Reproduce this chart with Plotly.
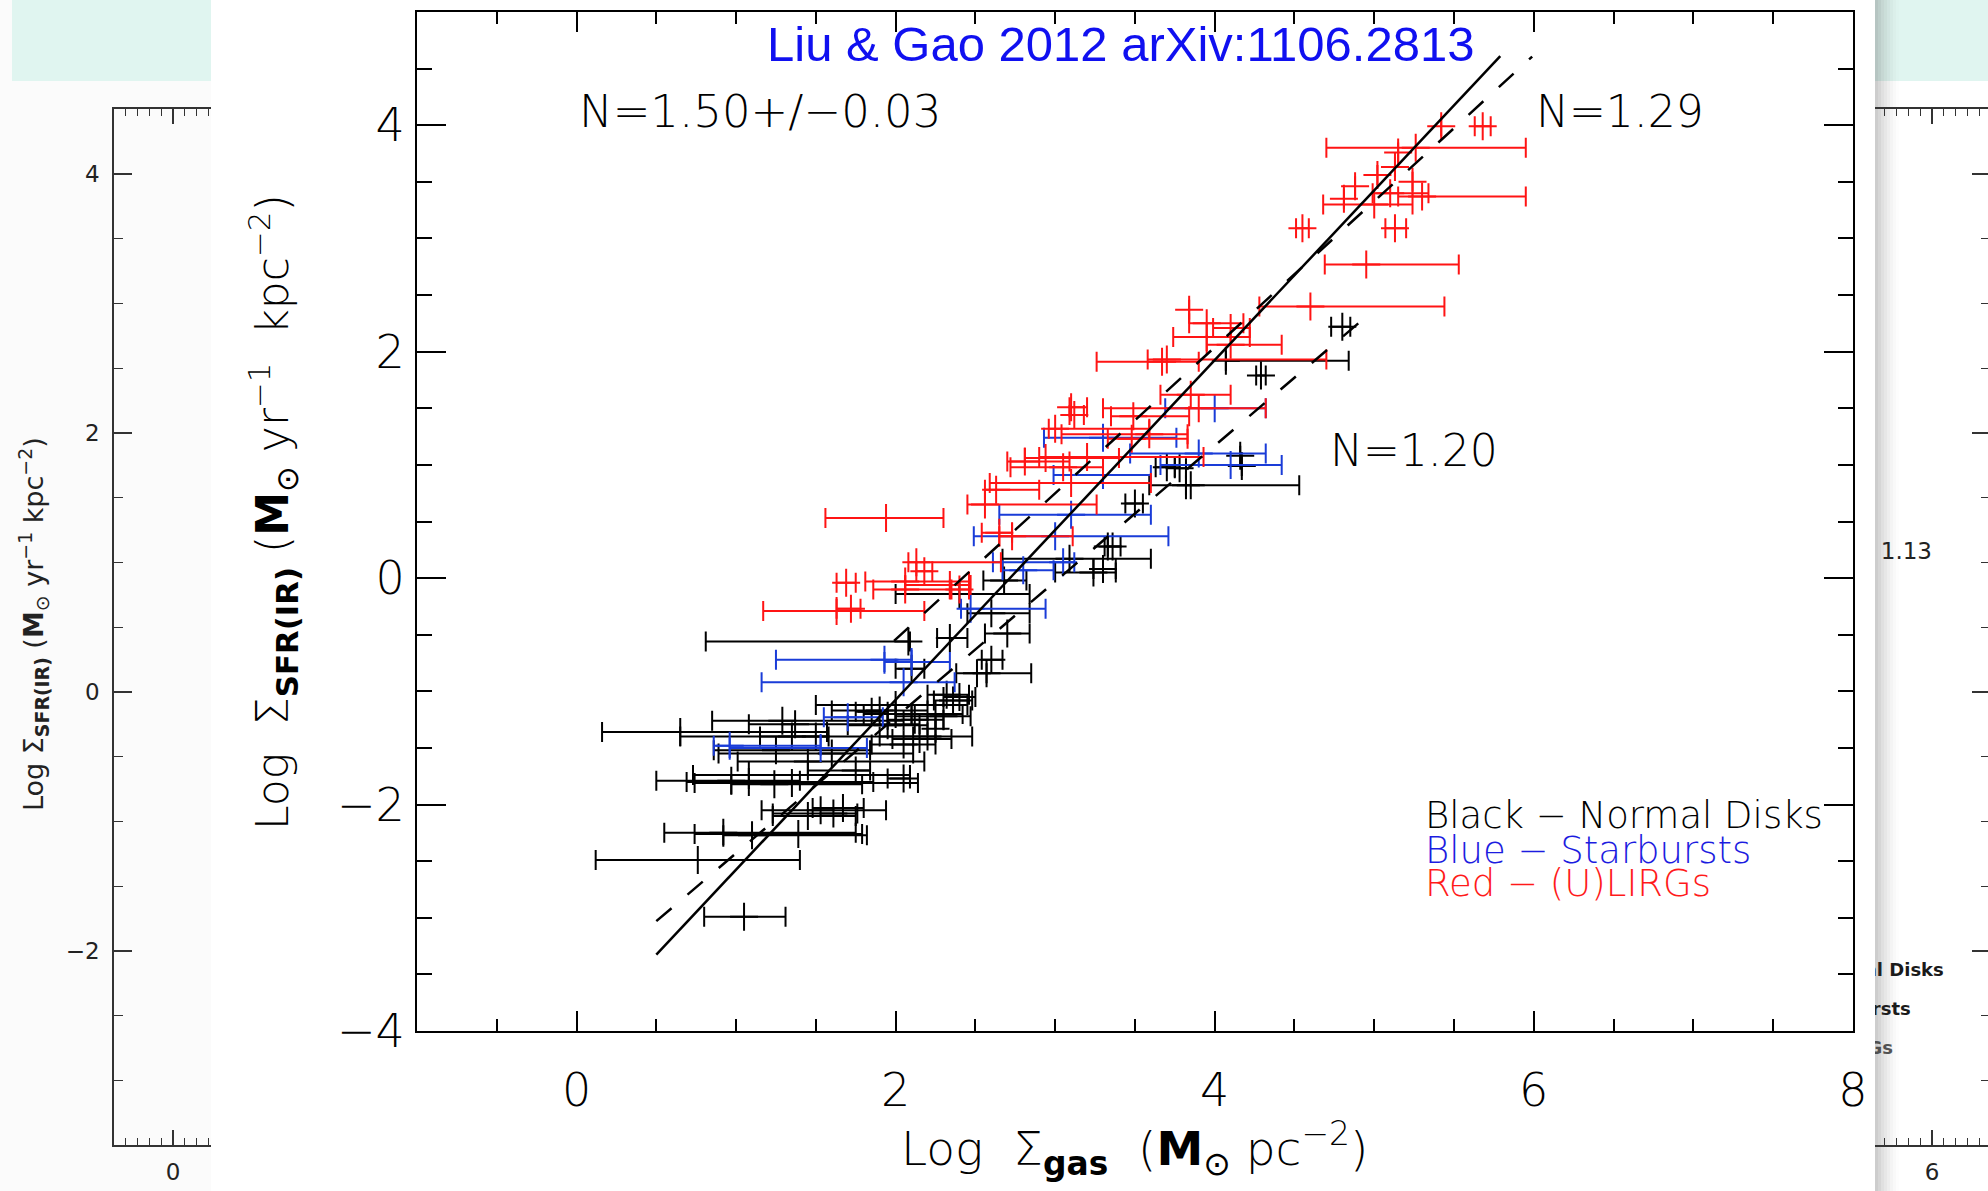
import plotly.graph_objects as go

W, H = 1988, 1191
def px(x): return x / W
def py(y): return 1 - y / H

FONT = "DejaVu Sans"
LIGHT = "DejaVu Sans Light, DejaVu Sans ExtraLight, DejaVu Sans"

# ---------------- data (log units) ----------------
# Red: (U)LIRGs  -> centre x, y, lower x, upper x
red_x  = [5.42, 5.68, 5.26, 5.15, 5.13, 5.02, 5.24, 4.88, 5.10, 4.81, 5.00, 5.30, 4.55, 5.13, 4.95, 4.60,
          3.84, 3.95, 4.10, 3.95, 4.10, 3.67, 3.70, 3.85, 3.90, 3.49, 3.10, 3.12, 3.00, 3.48, 3.59, 2.81,
          2.94, 3.20, 3.05, 3.10, 2.63, 2.56, 2.65, 2.73, 1.94, 2.13, 2.18, 2.06, 2.06, 2.34, 1.69, 1.63,
          1.72, 2.40]
red_y  = [3.99, 3.99, 3.80, 3.76, 3.63, 3.56, 3.50, 3.46, 3.40, 3.35, 3.30, 3.37, 3.09, 3.09, 2.77, 2.40,
          2.37, 2.25, 2.21, 2.13, 2.06, 1.91, 1.93, 1.62, 1.50, 1.43, 1.51, 1.44, 1.32, 1.23, 1.27, 1.03,
          1.06, 1.07, 0.98, 0.84, 0.78, 0.65, 0.40, 0.37, 0.53, 0.14, 0.06, -0.03, -0.10, -0.06, -0.04, -0.29,
          -0.27, -0.10]
red_lo = [5.42, 5.63, 4.70, 5.15, 5.13, 5.02, 5.24, 4.88, 4.99, 4.81, 4.68, 5.15, 4.51, 5.07, 4.69, 4.28,
          3.84, 3.84, 3.99, 3.74, 3.95, 3.26, 3.58, 3.66, 3.30, 3.35, 3.09, 3.09, 2.96, 3.33, 3.04, 2.70,
          2.81, 2.90, 2.72, 2.59, 2.56, 2.45, 2.54, 2.65, 1.56, 2.08, 2.13, 1.81, 1.86, 2.06, 1.63, 1.17,
          1.63, 2.35]
red_hi = [5.42, 5.73, 5.95, 5.15, 5.13, 5.02, 5.24, 4.88, 5.34, 4.81, 5.24, 5.95, 4.59, 5.20, 5.53, 5.44,
          3.84, 4.18, 4.22, 4.22, 4.42, 3.90, 4.70, 4.10, 4.32, 3.84, 3.20, 3.18, 3.59, 3.83, 3.83, 3.09,
          3.40, 3.93, 3.30, 3.60, 2.90, 3.26, 2.73, 3.11, 2.30, 2.66, 2.23, 2.46, 2.34, 2.47, 1.75, 2.18,
          1.78, 2.46]

# Blue: Starbursts
blue_x  = [4.00, 3.30, 3.90, 4.10, 3.30, 3.10, 3.00, 3.05, 2.80, 2.47, 1.93, 2.10, 2.05, 1.70, 0.96, 1.53]
blue_y  = [1.50, 1.24, 1.10, 1.00, 0.91, 0.56, 0.37, 0.14, 0.07, -0.27, -0.72, -0.74, -0.92, -1.23, -1.48, -1.50]
blue_lo = [3.69, 2.93, 3.47, 3.66, 2.99, 2.65, 2.49, 2.61, 2.67, 2.41, 1.25, 1.93, 1.16, 1.55, 0.86, 0.96]
blue_hi = [4.32, 3.76, 4.32, 4.42, 3.60, 3.60, 3.71, 3.12, 2.99, 2.94, 2.10, 2.34, 2.37, 1.92, 1.53, 1.82]

# Black: Normal disks
blk_x  = [4.80, 4.07, 4.29, 4.16, 4.17, 3.70, 3.78, 3.85, 3.82, 3.50, 3.36, 3.33, 3.09, 3.30, 3.24,
          2.68, 2.40, 2.60, 2.70, 2.34, 2.08, 2.60, 2.51, 2.57, 2.10, 2.40, 2.36, 2.32, 2.25, 2.30,
          2.25, 2.20, 1.90, 2.00, 1.85, 2.00, 2.12, 1.95, 2.15, 2.05,
          1.29, 1.37, 0.65, 1.50, 1.35, 1.25, 1.60, 1.45, 1.75, 1.08, 0.97, 1.08, 1.35, 2.05, 1.24,
          1.53, 1.67, 1.61, 1.45, 0.92, 1.39, 1.10, 0.76, 1.05]
blk_y  = [2.22, 1.92, 1.79, 1.08, 0.99, 0.98, 0.97, 0.82, 0.82, 0.66, 0.28, 0.28, 0.17, 0.08, 0.05,
          -0.02, -0.14, -0.31, -0.49, -0.53, -0.56, -0.72, -0.84, -0.84, -0.80, -1.05, -1.08, -1.03, -1.20, -1.22,
          -1.33, -1.40, -1.17, -1.12, -1.18, -1.20, -1.25, -1.30, -1.42, -1.47,
          -1.26, -1.29, -1.36, -1.40, -1.40, -1.52, -1.55, -1.62, -1.70, -1.74, -1.79, -1.80, -1.81, -1.77, -1.82,
          -2.05, -2.03, -2.08, -2.10, -2.25, -2.26, -2.27, -2.49, -2.99]
blk_lo = [4.73, 4.07, 4.26, 4.16, 4.17, 3.63, 3.75, 3.59, 3.82, 3.44, 3.31, 3.33, 2.67, 3.24, 3.00,
          2.55, 2.00, 2.45, 2.56, 2.26, 0.81, 2.54, 2.38, 2.57, 2.00, 2.30, 2.24, 2.20, 2.10, 2.00,
          2.25, 1.90, 1.60, 1.50, 1.75, 1.80, 1.95, 1.70, 1.98, 1.85,
          0.85, 1.08, 0.16, 0.65, 1.15, 0.86, 0.89, 1.01, 1.45, 0.73, 0.50, 0.69, 0.74, 1.95, 0.97,
          1.16, 1.48, 1.23, 1.23, 0.55, 0.74, 0.92, 0.12, 0.80]
blk_hi = [4.85, 4.84, 4.32, 4.16, 4.17, 3.75, 3.82, 4.53, 3.82, 3.55, 3.41, 3.33, 3.60, 3.38, 3.38,
          2.82, 2.84, 2.84, 2.84, 2.45, 2.09, 2.67, 2.85, 2.57, 2.18, 2.50, 2.48, 2.46, 2.42, 2.47,
          2.25, 2.48, 2.20, 2.45, 1.95, 2.10, 2.30, 2.20, 2.35, 2.25,
          2.05, 2.15, 1.57, 2.11, 1.58, 1.84, 2.11, 2.18, 1.84, 2.09, 1.40, 1.86, 2.14, 2.09, 1.79,
          1.94, 1.80, 1.76, 1.75, 1.75, 1.79, 1.82, 1.40, 1.31]

# fits: slope, intercept, x-start, x-end
fit_solid   = (1.50, -4.075, 0.50, 5.79)   # N=1.50
fit_dash_hi = (1.29, -3.121, 1.99, 5.99)   # N=1.29
fit_dash_lo = (1.20, -3.630, 0.50, 4.90)   # N=1.20

RED = "#ff1414"
BLUE = "#1a3cd8"
BLACK = "#000000"

fig = go.Figure()

def add_group(xs, ys, lo, hi, color):
    fig.add_trace(go.Scatter(
        x=xs, y=ys, mode="markers", xaxis="x", yaxis="y",
        marker=dict(symbol="cross-thin", size=20, color=color, line=dict(width=2, color=color)),
        error_x=dict(type="data", symmetric=False,
                     array=[h - x for h, x in zip(hi, xs)],
                     arrayminus=[x - l for x, l in zip(xs, lo)],
                     width=10, thickness=2, color=color),
        showlegend=False, hoverinfo="skip"))

add_group(blk_x, blk_y, blk_lo, blk_hi, BLACK)
add_group(blue_x, blue_y, blue_lo, blue_hi, BLUE)
add_group(red_x, red_y, red_lo, red_hi, RED)

def add_fit(fit, dash):
    m, b, x0, x1 = fit
    fig.add_trace(go.Scatter(x=[x0, x1], y=[m * x0 + b, m * x1 + b], mode="lines",
                             xaxis="x", yaxis="y",
                             line=dict(color="black", width=2.5, dash=dash),
                             showlegend=False, hoverinfo="skip"))

add_fit(fit_solid, "solid")
add_fit(fit_dash_hi, "20px,21px")
add_fit(fit_dash_lo, "20px,21px")

# left background chart (only its frame is visible) -> empty trace so the subplot is drawn
fig.add_trace(go.Scatter(x=[None], y=[None], mode="markers", xaxis="x2", yaxis="y2",
                         showlegend=False, hoverinfo="skip"))

# right background chart: clipped legend / label text
fig.add_trace(go.Scatter(
    x=[6.2, 5.64, 5.34, 6.0], y=[-2.16, -2.46, -2.76, 1.07], mode="text", xaxis="x3", yaxis="y3",
    text=["<b>Black − Normal Disks</b>", "<b>Blue − Starbursts</b>", "<b>Red − (U)LIRGs</b>", "1.13"],
    textposition="middle left",
    textfont=dict(family=FONT, size=[18, 18, 18, 23], color=["#1a1a1a", "#1a1a1a", "#555555", "#222222"]),
    showlegend=False, hoverinfo="skip", cliponaxis=True))

main_tick = dict(family=LIGHT, size=46, color="black")
small_tick = dict(family=FONT, size=23, color="#222")

layout = dict(
    width=W, height=H, autosize=False, margin=dict(l=0, r=0, t=0, b=0, pad=0, autoexpand=False),
    paper_bgcolor="white", plot_bgcolor="rgba(0,0,0,0)",
    xaxis=dict(domain=[px(417), px(1853)], range=[-1, 8.001], anchor="y",
               tickvals=[0, 2, 4, 6, 8], ticks="inside", ticklen=20, tickwidth=2, tickcolor="black",
               showline=True, linewidth=2, linecolor="black", mirror="ticks",
               showgrid=False, zeroline=False, tickfont=main_tick, ticklabelstandoff=18,
               minor=dict(dtick=0.5, tick0=0, ticks="inside", ticklen=12, tickwidth=2,
                          tickcolor="black", showgrid=False)),
    yaxis=dict(domain=[py(1031), py(12)], range=[-4, 5], anchor="x",
               tickvals=[-4, -2, 0, 2, 4], ticks="inside", ticklen=29, tickwidth=2, tickcolor="black",
               showline=True, linewidth=2, linecolor="black", mirror="ticks",
               showgrid=False, zeroline=False, tickfont=main_tick, ticklabelstandoff=1,
               minor=dict(dtick=0.5, tick0=0, ticks="inside", ticklen=15, tickwidth=2,
                          tickcolor="black", showgrid=False)),
    xaxis2=dict(domain=[px(114), px(211)], range=[-1, 0.644], anchor="y2",
                tickvals=[0], ticks="inside", ticklen=15, tickwidth=1.5, tickcolor="#333",
                showline=True, linewidth=1.5, linecolor="#333", mirror="ticks",
                showgrid=False, zeroline=False, tickfont=small_tick, ticklabelstandoff=6,
                minor=dict(dtick=0.2, tick0=0, ticks="inside", ticklen=7, tickwidth=1.2,
                           tickcolor="#333", showgrid=False)),
    yaxis2=dict(domain=[py(1145), py(109)], range=[-3.5, 4.5], anchor="x2",
                tickvals=[-2, 0, 2, 4], ticks="inside", ticklen=18, tickwidth=1.5, tickcolor="#333",
                showline=True, linewidth=1.5, linecolor="#333", mirror=False,
                showgrid=False, zeroline=False, tickfont=small_tick, ticklabelstandoff=8,
                minor=dict(dtick=0.5, tick0=0, ticks="inside", ticklen=9, tickwidth=1.2,
                           tickcolor="#333", showgrid=False)),
    xaxis3=dict(domain=[px(1875), 1.0], range=[5.034, 6.949], anchor="y3",
                tickvals=[6], ticks="inside", ticklen=15, tickwidth=1.5, tickcolor="#333",
                showline=True, linewidth=1.5, linecolor="#333", mirror="ticks",
                showgrid=False, zeroline=False, tickfont=small_tick, ticklabelstandoff=6,
                minor=dict(dtick=0.2, tick0=0, ticks="inside", ticklen=7, tickwidth=1.2,
                           tickcolor="#333", showgrid=False)),
    yaxis3=dict(domain=[py(1145), py(109)], range=[-3.5, 4.5], anchor="x3", side="right",
                tickvals=[-2, 0, 2, 4], ticks="inside", ticklen=16, tickwidth=1.5, tickcolor="#333",
                showline=False, showticklabels=False,
                showgrid=False, zeroline=False,
                minor=dict(dtick=0.5, tick0=0, ticks="inside", ticklen=7, tickwidth=1.2,
                           tickcolor="#333", showgrid=False)),
)
fig.update_layout(**layout)

shapes = [
    dict(type="rect", xref="paper", yref="paper", x0=0, x1=px(211), y0=0, y1=1,
         fillcolor="#fbfbfb", line=dict(width=0), layer="below"),
    dict(type="rect", xref="paper", yref="paper", x0=px(12), x1=px(211), y0=py(81), y1=1,
         fillcolor="#e0f5f0", line=dict(width=0), layer="below"),
    dict(type="rect", xref="paper", yref="paper", x0=px(1875), x1=1, y0=py(81), y1=1,
         fillcolor="#e0f5f0", line=dict(width=0), layer="below"),
]
alphas = [0.26, 0.21, 0.16, 0.12, 0.085, 0.055, 0.03, 0.012]
for i, a in enumerate(alphas):
    shapes.append(dict(type="rect", xref="paper", yref="paper",
                       x0=px(1875 + 3 * i), x1=px(1878 + 3 * i), y0=0, y1=1,
                       fillcolor=f"rgba(60,60,60,{a})", line=dict(width=0), layer="above"))
fig.update_layout(shapes=shapes)

ann = []
def text(x, y, s, size, color="black", family=LIGHT, xanchor="left", angle=0):
    ann.append(dict(x=px(x), y=py(y), xref="paper", yref="paper", text=s, showarrow=False,
                    xanchor=xanchor, yanchor="middle", textangle=angle,
                    font=dict(family=family, size=size, color=color)))

def bold(s):
    return f"<span style=\"font-family:'DejaVu Sans'\"><b>{s}</b></span>"

text(1120, 44, "Liu &amp; Gao 2012 arXiv:1106.2813", 49, "#1010f0", "Liberation Sans, Arial", "center")
text(577, 112, "N=1.50+/−0.03", 45)
text(1534, 112, "N=1.29", 44)
text(1328, 450, "N=1.20", 44)
text(1423, 815, "Black − Normal Disks", 37)
text(1423, 850, "Blue − Starbursts", 37, "#1c1ce0")
text(1423, 883, "Red − (U)LIRGs", 37, "#ff1a1a")
text(1134, 1148, f"Log  Σ<sub>{bold('gas')}</sub>  ({bold('M')}<sub>⊙</sub> pc<sup>−2</sup>)",
     47, "black", LIGHT, "center")
text(273, 512, f"Log  Σ<sub>{bold('SFR(IR)')}</sub> ({bold('M')}<sub>⊙</sub> yr<sup>−1</sup>  kpc<sup>−2</sup>)",
     44, "black", LIGHT, "center", -90)
text(33, 624, "Log Σ<sub><b>SFR(IR)</b></sub> (<b>M</b><sub>⊙</sub> yr<sup>−1</sup> kpc<sup>−2</sup>)",
     27, "#222", FONT, "center", -90)
fig.update_layout(annotations=ann)

fig.write_html("out.html", config={"responsive": False},
               post_script="document.body.style.margin='0px';document.body.style.overflow='hidden';")
